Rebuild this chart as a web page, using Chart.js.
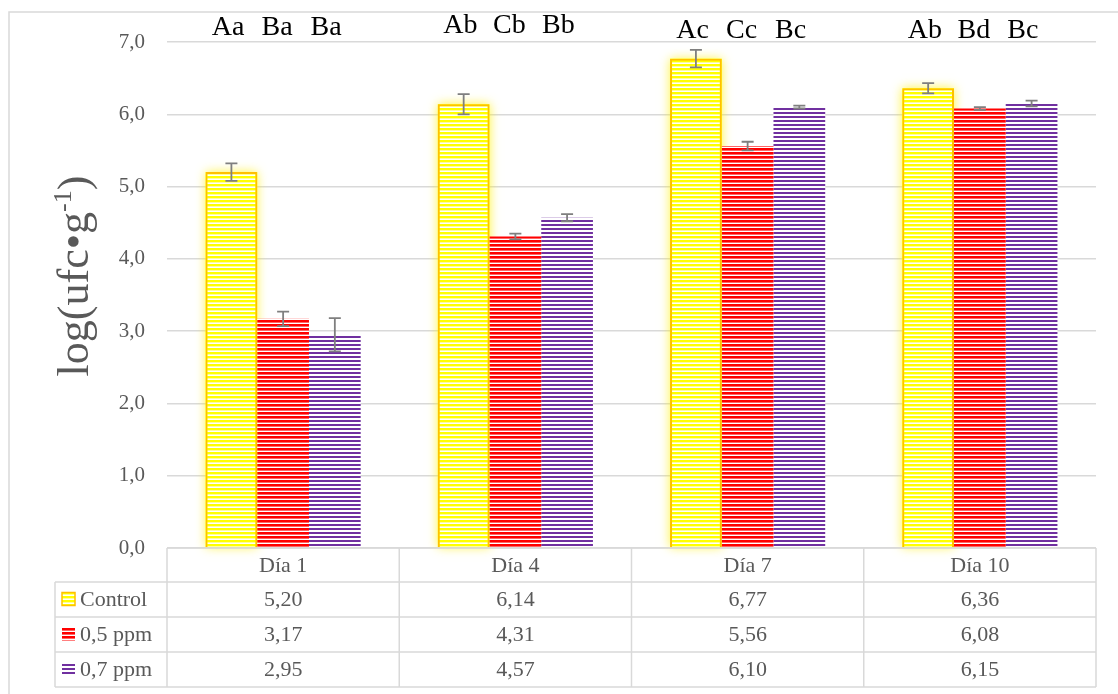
<!DOCTYPE html>
<html>
<head>
<meta charset="utf-8">
<title>log(ufc/g)</title>
<script src="https://cdn.jsdelivr.net/npm/chart.js@4.4.1/dist/chart.umd.min.js"></script>
<style>
  body { margin: 0; background: #fff; }
  #wrap { width: 1118px; height: 694px; }
</style>
</head>
<body>
<div id="wrap"><canvas id="myChart" width="1118" height="694"></canvas></div>
<script>
const days = ['Día 1', 'Día 4', 'Día 7', 'Día 10'];
const seriesNames = ['Control', '0,5 ppm', '0,7 ppm'];
const control = [5.20, 6.14, 6.77, 6.36];
const ppm05 = [3.17, 4.31, 5.56, 6.08];
const ppm07 = [2.95, 4.57, 6.10, 6.15];
const controlErr = [0.12, 0.14, 0.12, 0.07];
const ppm05Err = [0.10, 0.04, 0.06, 0.02];
const ppm07Err = [0.23, 0.05, 0.02, 0.04];
const letters = [['Aa', 'Ba', 'Ba'], ['Ab', 'Cb', 'Bb'], ['Ac', 'Cc', 'Bc'], ['Ab', 'Bd', 'Bc']];
const yTicks = [0, 1, 2, 3, 4, 5, 6, 7];

const serif = '"Liberation Serif", "Times New Roman", serif';
const grey = '#595959';
const lineGrey = '#d9d9d9';

// striped fill like the office "narrow horizontal" pattern
// rows: list of colours, one per pixel row
function stripes(rows) {
    const c = document.createElement('canvas');
    c.width = 4;
    c.height = rows.length;
    const g = c.getContext('2d');
    rows.forEach((col, i) => {
        g.fillStyle = col;
        g.fillRect(0, i, 4, 1);
    });
    return g.createPattern(c, 'repeat');
}

const ctx = document.getElementById('myChart').getContext('2d');
const fills = [
    stripes(['#FFFF00', '#FFFF00', '#FFFF99', '#ffffff']),
    stripes(['#FF0000', '#FF0000', '#FF6666', '#ffffff']),
    stripes(['#7030A0', '#7030A0', '#ffffff', '#ffffff'])
];
const errors = [controlErr, ppm05Err, ppm07Err];

function fmt(v) {
    return v.toFixed(2).replace('.', ',');
}

const extras = {
    id: 'extras',
    beforeDatasetsDraw(chart) {
        // yellow glow behind control bars
        const c = chart.ctx;
        const meta = chart.getDatasetMeta(0);
        c.save();
        c.shadowColor = 'rgba(255,240,0,0.75)';
        c.shadowBlur = 10;
        c.fillStyle = '#FFFF00';
        meta.data.forEach(bar => {
            const p = bar.getProps(['x', 'y', 'base', 'width'], true);
            c.fillRect(p.x - p.width / 2, p.y, p.width, p.base - p.y);
        });
        c.restore();
    },
    afterDatasetsDraw(chart) {
        const c = chart.ctx;
        const y = chart.scales.y;
        c.save();
        c.strokeStyle = '#7f7f7f';
        c.lineWidth = 1.8;
        chart.data.datasets.forEach((ds, di) => {
            chart.getDatasetMeta(di).data.forEach((bar, i) => {
                const v = ds.data[i];
                const e = errors[di][i];
                const top = y.getPixelForValue(v + e);
                const bot = y.getPixelForValue(v - e);
                c.beginPath();
                c.moveTo(bar.x, top);
                c.lineTo(bar.x, bot);
                c.moveTo(bar.x - 6, top);
                c.lineTo(bar.x + 6, top);
                c.moveTo(bar.x - 6, bot);
                c.lineTo(bar.x + 6, bot);
                c.stroke();
            });
        });
        c.restore();
    },
    afterDraw(chart) {
        const c = chart.ctx;
        const area = chart.chartArea;
        const xs = chart.scales.x;
        const colW = (area.right - area.left) / days.length;
        const rowH = 35;
        const top = area.bottom;
        const headH = 34;
        c.save();

        // outer frame
        c.strokeStyle = lineGrey;
        c.lineWidth = 1.5;
        c.beginPath();
        c.moveTo(9, 694);
        c.lineTo(9, 12);
        c.lineTo(1118, 12);
        c.stroke();

        // data table
        c.beginPath();
        c.moveTo(area.left, top);
        c.lineTo(area.right, top);
        for (let r = 0; r <= seriesNames.length; r++) {
            const yy = top + headH + r * rowH;
            c.moveTo(55, yy);
            c.lineTo(area.right, yy);
        }
        const tableBottom = top + headH + seriesNames.length * rowH;
        c.moveTo(55, top + headH);
        c.lineTo(55, tableBottom);
        for (let k = 0; k <= days.length; k++) {
            const xx = area.left + k * colW;
            c.moveTo(xx, top);
            c.lineTo(xx, tableBottom);
        }
        c.stroke();

        c.fillStyle = grey;
        c.font = '22px ' + serif;
        c.textAlign = 'center';
        c.textBaseline = 'middle';
        days.forEach((d, i) => {
            const cx = xs.getPixelForValue(i);
            c.fillText(d, cx, top + headH / 2 + 1);
            chart.data.datasets.forEach((ds, di) => {
                c.fillText(fmt(ds.data[i]), cx, top + headH + di * rowH + rowH / 2 + 1);
            });
        });

        // legend keys + names
        c.textAlign = 'left';
        seriesNames.forEach((name, di) => {
            const yy = top + headH + di * rowH + rowH / 2;
            c.fillStyle = fills[di];
            c.fillRect(62, yy - 7, 13, 13);
            if (di === 0) {
                c.strokeStyle = '#FFC000';
                c.lineWidth = 1.5;
                c.strokeRect(62, yy - 7, 13, 13);
            }
            c.fillStyle = grey;
            c.fillText(name, 80, yy + 1);
        });

        // significance letters above each group
        const base = [35, 33, 38, 38];
        const offs = [-55, -6, 43];
        c.fillStyle = '#000';
        c.font = '28px ' + serif;
        c.textAlign = 'center';
        c.textBaseline = 'alphabetic';
        letters.forEach((set, i) => {
            const cx = xs.getPixelForValue(i);
            set.forEach((t, j) => c.fillText(t, cx + offs[j], base[i]));
        });

        // y axis title with superscript
        c.translate(88, 276);
        c.rotate(-Math.PI / 2);
        c.fillStyle = grey;
        const big = '44px ' + serif;
        const small = '26px ' + serif;
        c.font = big;
        const w1 = c.measureText('log(ufc•g').width;
        const w3 = c.measureText(')').width;
        c.font = small;
        const w2 = c.measureText('-1').width;
        let x0 = -(w1 + w2 + w3) / 2;
        c.textAlign = 'left';
        c.font = big;
        c.fillText('log(ufc•g', x0, 0);
        c.font = small;
        c.fillText('-1', x0 + w1, -17);
        c.font = big;
        c.fillText(')', x0 + w1 + w2, 0);
        c.restore();
    }
};

new Chart(ctx, {
    type: 'bar',
    data: {
        labels: days,
        datasets: [{
            label: seriesNames[0],
            data: control,
            backgroundColor: fills[0],
            borderColor: '#FFC000',
            borderWidth: 2
        }, {
            label: seriesNames[1],
            data: ppm05,
            backgroundColor: fills[1],
            borderWidth: 0
        }, {
            label: seriesNames[2],
            data: ppm07,
            backgroundColor: fills[2],
            borderWidth: 0
        }]
    },
    options: {
        responsive: false,
        animation: false,
        layout: {
            padding: { left: 107, right: 22, top: 42, bottom: 146 }
        },
        plugins: {
            legend: { display: false },
            tooltip: { enabled: false }
        },
        datasets: {
            bar: { barPercentage: 1, categoryPercentage: 0.668 }
        },
        scales: {
            x: {
                display: false
            },
            y: {
                min: 0,
                max: 7,
                afterFit(scale) { scale.width = 60; },
                afterBuildTicks(scale) { scale.ticks = yTicks.map(v => ({ value: v })); },
                border: { display: false },
                grid: { color: lineGrey, lineWidth: 1.5, drawTicks: false },
                ticks: {
                    padding: 22,
                    color: grey,
                    font: { family: serif, size: 21 },
                    callback: v => v.toFixed(1).replace('.', ',')
                }
            }
        }
    },
    plugins: [extras]
});
</script>
</body>
</html>
